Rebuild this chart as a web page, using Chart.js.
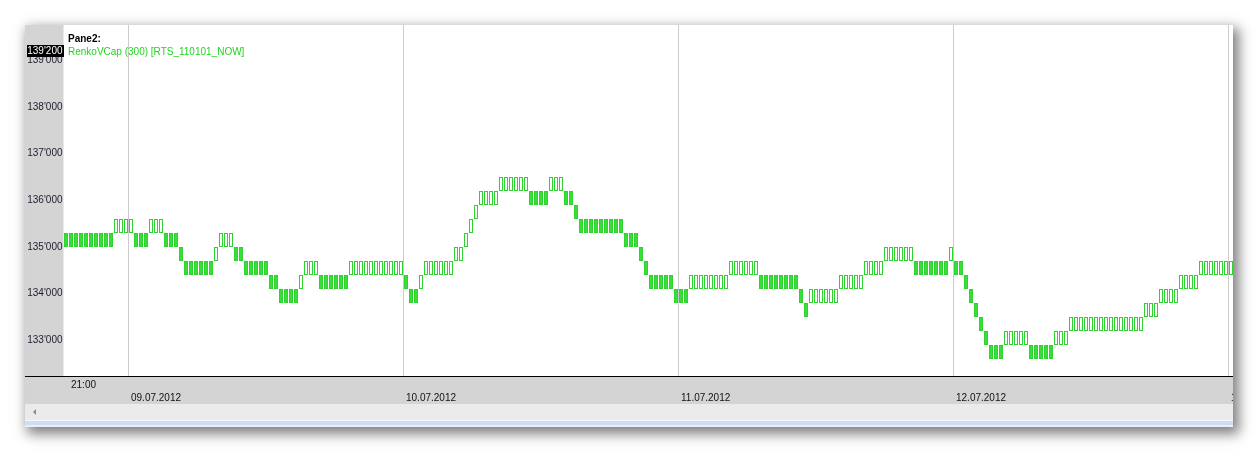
<!DOCTYPE html>
<html>
<head>
<meta charset="utf-8">
<script src="https://cdn.jsdelivr.net/npm/chart.js@4.4.1/dist/chart.umd.min.js"></script>
<style>
  html, body { margin: 0; padding: 0; background: #ffffff; width: 1259px; height: 454px; overflow: hidden; }
  #win { position: absolute; left: 25px; top: 25px; width: 1208px; height: 402px; background: #ffffff;
         box-shadow: 4px 5px 12px 2px rgba(0,0,0,0.5); overflow: hidden; }
  #cv { position: absolute; left: 0; top: 0; }
  #scroll { position: absolute; left: 0; top: 379px; width: 1208px; height: 16px; background: #ebebeb; }
  #arrow { position: absolute; left: 8px; top: 5px; width: 0; height: 0;
           border-top: 3px solid transparent; border-bottom: 3px solid transparent; border-right: 3px solid #8a8a8a; }
  #blue1 { position: absolute; left: 0; top: 395px; width: 1208px; height: 1px; background: #f4f7fc; }
  #blue2 { position: absolute; left: 0; top: 396px; width: 1208px; height: 4px; background: #cfdcf4; }
  #blue3 { position: absolute; left: 0; top: 400px; width: 1208px; height: 2px; background: #e9eff9; }
  .leg { position: absolute; font-family: "Liberation Sans", Arial, sans-serif; font-size: 10px; line-height: 12px; white-space: nowrap; }
  #pane { left: 43px; top: 8px; font-weight: bold; color: #000; }
  #series { left: 43px; top: 21px; color: #22d422; }
</style>
</head>
<body>
<div id="win">
  <canvas id="cv" width="1209" height="379"></canvas>
  <div class="leg" id="pane">Pane2:</div>
  <div class="leg" id="series">RenkoVCap (300) [RTS_110101_NOW]</div>
  <div id="scroll"><div id="arrow"></div></div>
  <div id="blue1"></div><div id="blue2"></div><div id="blue3"></div>
</div>
<script>
// ---- data ----
const BRICK_SIZE = 300;

// bottom price of each Renko brick, left to right
const brickLow = [
  135000,135000,135000,135000,135000,135000,135000,135000,135000,135000,
  135300,135300,135300,135300,
  135000,135000,135000,
  135300,135300,135300,
  135000,135000,135000,
  134700,
  134400,134400,134400,134400,134400,134400,
  134700,
  135000,135000,135000,
  134700,134700,
  134400,134400,134400,134400,134400,
  134100,134100,
  133800,133800,133800,133800,
  134100,
  134400,134400,134400,
  134100,134100,134100,134100,134100,134100,
  134400,134400,134400,134400,134400,134400,134400,134400,134400,134400,134400,
  134100,
  133800,133800,
  134100,
  134400,134400,134400,134400,134400,134400,
  134700,134700,
  135000,
  135300,
  135600,
  135900,135900,135900,135900,
  136200,136200,136200,136200,136200,136200,
  135900,135900,135900,135900,
  136200,136200,136200,
  135900,135900,
  135600,
  135300,135300,135300,135300,135300,135300,135300,135300,135300,
  135000,135000,135000,
  134700,
  134400,
  134100,134100,134100,134100,134100,
  133800,133800,133800,
  134100,134100,134100,134100,134100,134100,134100,134100,
  134400,134400,134400,134400,134400,134400,
  134100,134100,134100,134100,134100,134100,134100,134100,
  133800,
  133500,
  133800,133800,133800,133800,133800,133800,
  134100,134100,134100,134100,134100,
  134400,134400,134400,134400,
  134700,134700,134700,134700,134700,134700,
  134400,134400,134400,134400,134400,134400,134400,
  134700,
  134400,134400,
  134100,
  133800,
  133500,
  133200,
  132900,
  132600,132600,132600,
  132900,132900,132900,132900,132900,
  132600,132600,132600,132600,132600,
  132900,132900,132900,
  133200,133200,133200,133200,133200,133200,133200,133200,133200,133200,133200,133200,133200,133200,133200,
  133500,133500,133500,
  133800,133800,133800,133800,
  134100,134100,134100,134100,
  134400,134400,134400,134400,134400,134400,134400
];

// 1 = rising (hollow) brick, 0 = falling (filled) brick
const brickUp = [
  0,0,0,0,0,0,0,0,0,0,
  1,1,1,1,
  0,0,0,
  1,1,1,
  0,0,0,
  0,
  0,0,0,0,0,0,
  1,
  1,1,1,
  0,0,
  0,0,0,0,0,
  0,0,
  0,0,0,0,
  1,
  1,1,1,
  0,0,0,0,0,0,
  1,1,1,1,1,1,1,1,1,1,1,
  0,
  0,0,
  1,
  1,1,1,1,1,1,
  1,1,
  1,
  1,
  1,
  1,1,1,1,
  1,1,1,1,1,1,
  0,0,0,0,
  1,1,1,
  0,0,
  0,
  0,0,0,0,0,0,0,0,0,
  0,0,0,
  0,
  0,
  0,0,0,0,0,
  0,0,0,
  1,1,1,1,1,1,1,1,
  1,1,1,1,1,1,
  0,0,0,0,0,0,0,0,
  0,
  0,
  1,1,1,1,1,1,
  1,1,1,1,1,
  1,1,1,1,
  1,1,1,1,1,1,
  0,0,0,0,0,0,0,
  1,
  0,0,
  0,
  0,
  0,
  0,
  0,
  0,0,0,
  1,1,1,1,1,
  0,0,0,0,0,
  1,1,1,
  1,1,1,1,1,1,1,1,1,1,1,1,1,1,1,
  1,1,1,
  1,1,1,1,
  1,1,1,1,
  1,1,1,1,1,1,1
];

// brick numbers used as categories
const categories = brickLow.map((_, i) => String(i + 1));

// x-axis tick labels (brick index where each label sits)
const timeTickIdx  = [1];
const timeTickText = ['21:00'];
const dayTickIdx   = [13, 68, 123, 178, 233];
const dayTickText  = ['09.07.2012', '10.07.2012', '11.07.2012', '12.07.2012', '13.07.2012'];

// y-axis tick values
const yTickValues = [133000, 134000, 135000, 136000, 137000, 138000, 139000];
const markerValue = 139200;

// ---- chart ----
const PLOT_H = 351;
const PX_PER_BRICK = 14;
const yMax = 135000 + 222 * BRICK_SIZE / PX_PER_BRICK;
const yMin = yMax - PLOT_H * BRICK_SIZE / PX_PER_BRICK;

function fmtPrice(v) {
  const s = String(Math.round(v));
  return s.slice(0, s.length - 3) + "'" + s.slice(s.length - 3);
}

function xTickLabel(i) {
  const t = timeTickIdx.indexOf(i);
  if (t >= 0) return [timeTickText[t], ''];
  const d = dayTickIdx.indexOf(i);
  if (d >= 0) return ['', dayTickText[d]];
  return '';
}

const FONT = { family: 'Liberation Sans', size: 10, lineHeight: 1.3 };

const framePlugin = {
  id: 'frame',
  beforeDraw(chart) {
    const { ctx, chartArea, width, height } = chart;
    ctx.save();
    ctx.fillStyle = '#ffffff';
    ctx.fillRect(0, 0, width, height);
    ctx.fillStyle = '#d4d4d4';
    ctx.fillRect(0, 0, chartArea.left, chartArea.bottom);
    ctx.fillRect(0, chartArea.bottom, width, height - chartArea.bottom);
    ctx.restore();
  },
  afterDraw(chart) {
    const { ctx, chartArea, width } = chart;
    const ys = chart.scales.y;
    ctx.save();
    ctx.fillStyle = '#000000';
    ctx.fillRect(0, Math.round(chartArea.bottom), width, 1);
    // current value marker on the price axis
    const py = Math.round(ys.getPixelForValue(markerValue));
    ctx.fillStyle = '#000000';
    ctx.fillRect(2, py - 6, Math.round(chartArea.left) - 2, 12);
    ctx.fillStyle = '#ffffff';
    ctx.font = '10px "Liberation Sans"';
    ctx.textAlign = 'right';
    ctx.textBaseline = 'middle';
    ctx.fillText(fmtPrice(markerValue), chartArea.left - 1, py + 0.5);
    ctx.restore();
  }
};

new Chart(document.getElementById('cv'), {
  type: 'bar',
  data: {
    labels: categories,
    datasets: [{
      data: brickLow.map((v, i) => brickUp[i] ? [v, v + BRICK_SIZE] : [v + BRICK_SIZE, v]),
      backgroundColor: brickUp.map(u => u ? '#ffffff' : '#3ade3a'),
      borderColor: '#2fd32f',
      borderWidth: 1,
      borderSkipped: false,
      barPercentage: 0.8,
      categoryPercentage: 1.0
    }]
  },
  options: {
    responsive: false,
    animation: false,
    events: [],
    layout: { padding: { left: 0, right: 0.5, top: 0, bottom: 0 } },
    plugins: { legend: { display: false }, tooltip: { enabled: false }, title: { display: false } },
    scales: {
      x: {
        type: 'category',
        offset: true,
        grid: {
          display: true, offset: true, drawTicks: false, lineWidth: 1,
          color: c => dayTickIdx.includes(c.index) ? '#cccccc' : 'rgba(0,0,0,0)'
        },
        border: { display: false },
        ticks: {
          autoSkip: false, maxRotation: 0, minRotation: 0, align: 'start', padding: 3,
          font: FONT, color: '#111111',
          callback: (v, i) => xTickLabel(i)
        },
        afterFit: s => { s.height = 28; s.paddingLeft = 0; s.paddingRight = 0; }
      },
      y: {
        min: yMin, max: yMax,
        grid: { display: false, drawTicks: false },
        border: { display: false },
        afterBuildTicks: s => { s.ticks = yTickValues.map(v => ({ value: v })); },
        ticks: { padding: 1, font: FONT, color: '#1c1c30', callback: v => fmtPrice(v) },
        afterFit: s => { s.width = 38.5; s.paddingTop = 0; s.paddingBottom = 0; }
      }
    }
  },
  plugins: [framePlugin]
});
</script>
</body>
</html>
